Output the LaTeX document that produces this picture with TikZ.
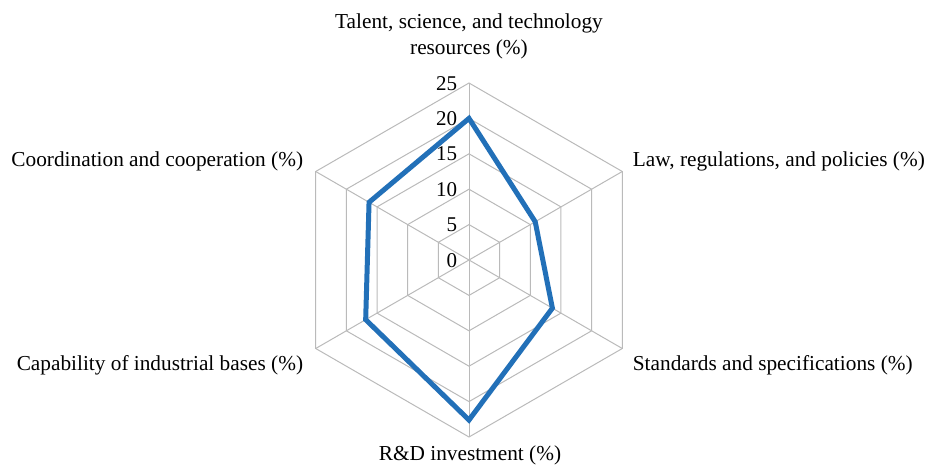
\documentclass[tikz,border=0pt]{standalone}
\usepackage{fontspec}
\setmainfont{Liberation Serif}
\begin{document}
\begin{tikzpicture}[x=1pt,y=1pt,
  grid/.style={draw=black!27, line width=1pt},
  lbl/.style={font=\fontsize{21.3}{26}\selectfont, inner sep=0pt},
  tick/.style={font=\fontsize{21}{26}\selectfont, inner sep=0pt, anchor=base east}]
\definecolor{serblue}{HTML}{2270B8}
\useasboundingbox (-469,-209) rectangle (457,260);
\def\u{7.08}
% grid hexagons
\foreach \v in {5,10,15,20,25}{
  \draw[grid] (90:\v*\u) -- (30:\v*\u) -- (-30:\v*\u) -- (-90:\v*\u) -- (-150:\v*\u) -- (150:\v*\u) -- cycle;
}
\coordinate (c) at (0,0);
\foreach \a/\n in {90/ot,30/olaw,-30/ostd,-90/ord,210/ocap,150/ocoord}{
  \coordinate (\n) at (\a:25*\u);
  \draw[grid] (c) -- (\n);
}
% ticks
\foreach \v in {0,5,10,15,20,25}{
  \node[tick] (t\v) at (-11.7,\v*\u-7) {\v};
}
% data
\coordinate (dt) at (90:20*\u);
\coordinate (dlaw) at (30:10.8*\u);
\coordinate (dstd) at (-30:13.6*\u);
\coordinate (drd) at (-90:22.6*\u);
\coordinate (dcap) at (210:16.85*\u);
\coordinate (dcoord) at (150:16.3*\u);
\draw[line width=5pt, draw=serblue, line join=miter] (dt) -- (dlaw) -- (dstd) -- (drd) -- (dcap) -- (dcoord) -- cycle;
% labels
\node[lbl, anchor=base] (ltop1) at (0,231) {Talent, science, and technology};
\node[lbl, anchor=base] (ltop2) at (0,205) {resources (\%)};
\node[lbl, anchor=base west] (llaw) at (163.7,94) {Law, regulations, and policies (\%)};
\node[lbl, anchor=base west] (lstd) at (163.7,-110.7) {Standards and specifications (\%)};
\node[lbl, anchor=base] (lrd) at (1,-200) {R\&D investment (\%)};
\node[lbl, anchor=base east] (lcap) at (-165.7,-110.7) {Capability of industrial bases (\%)};
\node[lbl, anchor=base east] (lcoord) at (-165.7,94) {Coordination and cooperation (\%)};
\end{tikzpicture}
\end{document}
